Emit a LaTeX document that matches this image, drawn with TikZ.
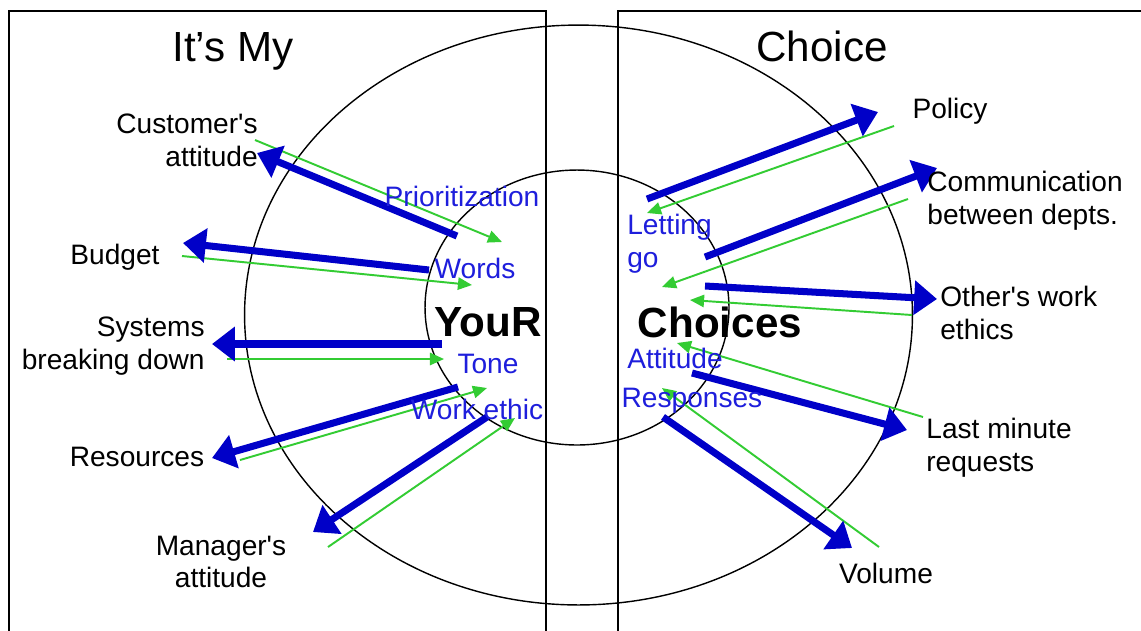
\documentclass[tikz,border=0pt]{standalone}
\usepackage{fontspec}
\setmainfont{Liberation Sans}
\usetikzlibrary{arrows.meta}
\definecolor{arrowblue}{RGB}{0,0,200}
\definecolor{arrowgreen}{RGB}{51,204,51}
\definecolor{textblue}{RGB}{30,30,220}
\begin{document}
\begin{tikzpicture}[x=0.02cm,y=-0.02cm,
  frame/.style={line width=0.9pt, draw=black},
  ring/.style={line width=0.8pt, draw=black},
  outarrow/.style={draw=arrowblue, line width=4pt, -{Triangle[length=13pt,width=19pt]}},
  inarrow/.style={draw=arrowgreen, line width=1.1pt, -{Triangle[length=8pt,width=7pt]}},
  lbl/.style={font=\fontsize{16}{18.7}\selectfont, inner sep=0pt},
  inlbl/.style={lbl, text=textblue},
  titletext/.style={font=\fontsize{24}{28}\selectfont, inner sep=0pt},
  coretext/.style={font=\fontsize{24}{28}\selectfont\bfseries, inner sep=0pt}]
\useasboundingbox (0,0) rectangle (1141,630);
\fill[white] (0,0) rectangle (1141,630);
\begin{scope}
\clip (0,0) rectangle (1141,630);
% frames
\draw[frame] (9,640) -- (9,11) -- (546,11) -- (546,640);
\draw[frame] (1150,11) -- (618,11) -- (618,640);
% rings
\draw[ring] (578.5,315) ellipse [x radius=6.68cm, y radius=5.8cm];
\draw[ring] (577,307.5) ellipse [x radius=3.04cm, y radius=2.75cm];
\end{scope}

% coordinates for arrows (left)
\coordinate (b1s) at (457,236); \coordinate (b1t) at (257,153);
\coordinate (b2s) at (429,270); \coordinate (b2t) at (183,243);
\coordinate (b3s) at (442,344); \coordinate (b3t) at (212,344);
\coordinate (b4s) at (458,387); \coordinate (b4t) at (212,458);
\coordinate (b5s) at (487,417); \coordinate (b5t) at (313,532);
% right
\coordinate (b6s) at (647,199); \coordinate (b6t) at (878,112);
\coordinate (b7s) at (705,257); \coordinate (b7t) at (937,168);
\coordinate (b8s) at (705,286); \coordinate (b8t) at (937,299);
\coordinate (b9s) at (692,373); \coordinate (b9t) at (907,430);
\coordinate (b10s) at (663,417); \coordinate (b10t) at (852,548);
% green
\coordinate (g1s) at (255,140); \coordinate (g1t) at (502,242);
\coordinate (g2s) at (182,256); \coordinate (g2t) at (472,285);
\coordinate (g3s) at (227,359); \coordinate (g3t) at (444,359);
\coordinate (g4s) at (240,460); \coordinate (g4t) at (487,388);
\coordinate (g5s) at (328,547); \coordinate (g5t) at (515,418);
\coordinate (g6s) at (894,126); \coordinate (g6t) at (647,213);
\coordinate (g7s) at (908,199); \coordinate (g7t) at (662,287);
\coordinate (g8s) at (912,315); \coordinate (g8t) at (690,300);
\coordinate (g9s) at (923,417); \coordinate (g9t) at (677,343);
\coordinate (g10s) at (879,547); \coordinate (g10t) at (662,388);

\foreach \i in {1,...,10} {
  \draw[inarrow] (g\i s) -- (g\i t);
}
\foreach \i in {1,...,10} {
  \draw[outarrow] (b\i s) -- (b\i t);
}

% titles
\node[titletext, anchor=base] (its) at (233,61) {It’s My};
\node[titletext, anchor=base] (choice) at (822,61) {Choice};
\node[coretext] (your) at (488,322) {YouR};
\node[coretext] (choices) at (720,322) {Choices};

% outer labels left
\node[lbl, anchor=east, align=right] (cust) at (258,140) {Customer\textquotesingle s\\attitude};
\node[lbl] (budget) at (115,257) {Budget};
\node[lbl, anchor=east, align=right] (sys) at (205,346) {Systems\\breaking down};
\node[lbl] (res) at (137,457) {Resources};
\node[lbl, align=center] (mgr) at (221,562) {Manager\textquotesingle s\\attitude};
% outer labels right
\node[lbl] (policy) at (950,111) {Policy};
\node[lbl, anchor=west, align=left] (comm) at (927,201) {Communication\\between depts.};
\node[lbl, anchor=west, align=left] (other) at (940,313) {Other\textquotesingle s work\\ethics};
\node[lbl, anchor=west, align=left] (last) at (926,448) {Last minute\\requests};
\node[lbl] (volume) at (886,573) {Volume};
% inner labels
\node[inlbl] (prior) at (462,196) {Prioritization};
\node[inlbl] (words) at (475,268) {Words};
\node[inlbl] (tone) at (488,364) {Tone};
\node[inlbl] (work) at (477,409) {Work ethic};
\node[inlbl, anchor=west, align=left] (letting) at (627,244) {Letting\\go};
\node[inlbl] (att) at (675,358) {Attitude};
\node[inlbl] (resp) at (692,401) {Responses};
\end{tikzpicture}
\end{document}
